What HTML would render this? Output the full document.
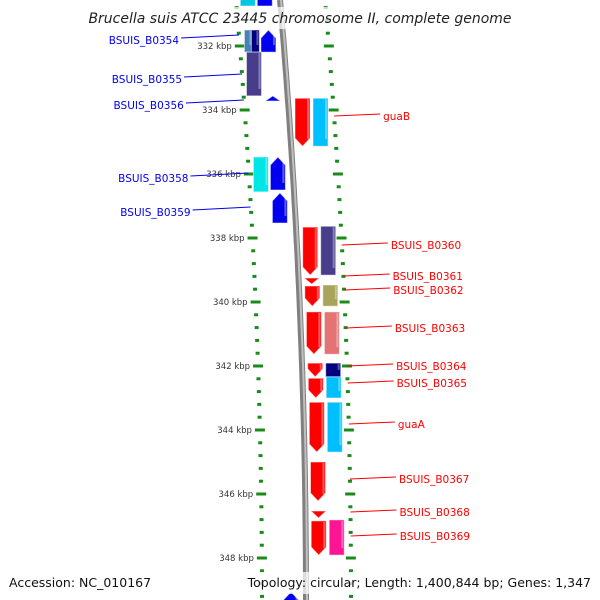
<!DOCTYPE html>
<html><head><meta charset="utf-8"><style>
html,body{margin:0;padding:0;background:#fff;}
svg{display:block;font-family:"DejaVu Sans","Liberation Sans",sans-serif;}
</style></head><body>
<svg id="map" width="600" height="600" viewBox="0 0 600 600">
<g id="ticks"></g><g id="genes"></g><g id="labels"></g>
</svg>
<script>
// axis: kbp range
const majorTicks = [332,334,336,338,340,342,344,346,348];
const tickLabels = ["332 kbp","334 kbp","336 kbp","338 kbp","340 kbp","342 kbp","344 kbp","346 kbp","348 kbp"];
// genes (kbp)
const geneStarts = [330.2,330.2,331.5,331.5,331.5,332.19,333.56,335.47,335.47,336.59,333.63,333.63,337.66,337.63,339.25,339.5,339.47,340.31,340.31,341.91,341.91,342.38,342.34,343.13,343.13,345.0,346.53,346.84,346.81,349.06];
const geneEnds   = [330.75,330.75,332.19,332.19,332.19,333.56,333.72,336.56,336.5,337.53,335.13,335.13,339.16,339.16,339.44,340.13,340.13,341.63,341.63,342.34,342.34,343.0,343.0,344.69,344.69,346.22,346.75,347.91,347.91,349.6];
const geneLanes  = ["LO","LI","LO1","LO2","LI","LO","LI","LO","LI","LI","RI","RO","RI","RO","RI","RI","RO","RI","RO","RI","RO","RI","RO","RI","RO","RI","RI","RI","RO","LI"];
const geneStrand = [0,-1,0,0,-1,0,-1,0,-1,-1,1,0,1,0,1,1,0,1,0,1,0,1,0,1,0,1,1,1,0,-1];
const geneColors = ["#00c8e0","#0000ee","#4682b4","#000080","#0000ee","#483d8b","#0000ee","#00e5e5","#0000ee","#0000ee","#ff0000","#00bfff","#ff0000","#483d8b","#ff0000","#ff0000","#a8a45c","#ff0000","#e57373","#ff0000","#000080","#ff0000","#00bfff","#ff0000","#00bfff","#ff0000","#ff0000","#ff0000","#ff1493","#0000ee"];
// labels
const labelNames = ["BSUIS_B0354","BSUIS_B0355","BSUIS_B0356","BSUIS_B0358","BSUIS_B0359","guaB","BSUIS_B0360","BSUIS_B0361","BSUIS_B0362","BSUIS_B0363","BSUIS_B0364","BSUIS_B0365","guaA","BSUIS_B0367","BSUIS_B0368","BSUIS_B0369"];
const labelSide  = [-1,-1,-1,-1,-1,1,1,1,1,1,1,1,1,1,1,1];
const labelY     = [40,79,105,178,212,116,245,276,290,328,366,383,424,479,512,536];
const labelAnchorKbp = [331.7,332.9,333.65,335.8,336.9,334.2,338.2,339.3,339.8,341.0,342.1,342.6,343.9,345.6,346.6,347.4];

const NS="http://www.w3.org/2000/svg";
const svgEl=document.getElementById('map');
const gT=document.getElementById('ticks'), gG=document.getElementById('genes'), gL=document.getElementById('labels');
function yOf(k){return 46+(k-332)*32;}
function bx(y){const t=1-y/600;return 280+26*(1-t*t);}
function mk(tag,attrs,parent){const e=document.createElementNS(NS,tag);for(const k in attrs)e.setAttribute(k,attrs[k]);parent.appendChild(e);return e;}
const laneOff={LO:-32,LO1:-35,LO2:-28,LI:-15,RI:13,RO:31};
const laneW={LO:15,LO1:8,LO2:8,LI:15,RI:15,RO:15};

let dPath="";for(let y=0;y<=600;y+=10)dPath+=(y?"L":"M")+bx(y).toFixed(1)+" "+y;
const bb=mk('path',{d:dPath,stroke:"#808080","stroke-width":6,fill:"none"},gT);


const bb2=mk('path',{d:dPath,stroke:"#c0c0c0","stroke-width":2,fill:"none",transform:"translate(1,0)"},gT);



for(let k=330.4;k<=350;k+=0.4){
  const y=yOf(k);if(y<-5||y>605)continue;
  const major=majorTicks.some(m=>Math.abs(m-k)<0.05);
  [-44,45].forEach(o=>{
    const x=bx(y)+o;
    const r=mk('rect',{x:major?x-5:x-2,y:y-1.5,width:major?10:4,height:3,fill:"#1a8a1a"},gT);
    
    
  });
}
majorTicks.forEach((m,i)=>{
  const y=yOf(m);
  const t=mk('text',{x:bx(y)-52,y:y+3,"text-anchor":"end","font-size":"8.5",fill:"#333"},gT);
  t.textContent=tickLabels[i];
  
  
});

geneStarts.forEach((s,i)=>{
  const y1=yOf(s),y2=yOf(geneEnds[i]);
  const lane=geneLanes[i],w=laneW[lane];
  const cx=bx((y1+y2)/2)+laneOff[lane];
  const x1=cx-w/2,x2=cx+w/2;
  const h=Math.min(8,(y2-y1));
  let pts;
  if(geneStrand[i]===1){pts=[[x1,y1],[x2,y1],[x2,y2-h],[cx,y2],[x1,y2-h]];}
  else if(geneStrand[i]===-1){pts=[[cx,y1],[x2,y1+h],[x2,y2],[x1,y2],[x1,y1+h]];}
  else pts=[[x1,y1],[x2,y1],[x2,y2],[x1,y2]];
  const p=mk('polygon',{points:pts.map(a=>a.map(v=>v.toFixed(1)).join(',')).join(' '),fill:geneColors[i],stroke:"rgba(255,255,255,0.5)","stroke-width":1},gG);
  
  
  const hl=mk('rect',{x:x2-3,y:y1+1,width:2,height:Math.max(0,y2-y1-h),fill:"rgba(255,255,255,0.35)"},gG);
  
  
});

labelNames.forEach((n,i)=>{
  const side=labelSide[i],ty=labelY[i];
  const ay=yOf(labelAnchorKbp[i]);
  let tx,lx1,lx2,col;
  if(side<0){col="#0000ee";lx2=bx(ay)-44;lx1=lx2-58;tx=lx1-2;}
  else{col="#ff0000";lx1=bx(ay)+45;lx2=lx1+46;tx=lx2+3;}
  const ln=mk('line',{x1:lx1,y1:side<0?ty-2:ty,x2:lx2,y2:side<0?ty-5:ty-2,stroke:col,"stroke-width":1},gL);
  
  
  const t=mk('text',{x:tx,y:ty+4,"text-anchor":side<0?"end":"start","font-size":"10.5",fill:col},gL);
  t.textContent=n;
  
  
});

const band=mk('rect',{x:0,y:7,width:600,height:22,fill:"rgba(255,255,255,0.72)"},svgEl);


const titleText=mk('text',{x:300,y:23,"text-anchor":"middle","font-size":"14","font-style":"italic",fill:"#222"},svgEl);
titleText.textContent="Brucella suis ATCC 23445 chromosome II, complete genome";


const footBand=mk('rect',{x:0,y:572,width:600,height:22,fill:"rgba(255,255,255,0.72)"},svgEl);


const accText=mk('text',{x:9,y:587,"font-size":"12.5",fill:"#111"},svgEl);
accText.textContent="Accession: NC_010167";


const topoText=mk('text',{x:591,y:587,"text-anchor":"end","font-size":"12.5",fill:"#111"},svgEl);
topoText.textContent="Topology: circular; Length: 1,400,844 bp; Genes: 1,347";


</script>
</body></html>
